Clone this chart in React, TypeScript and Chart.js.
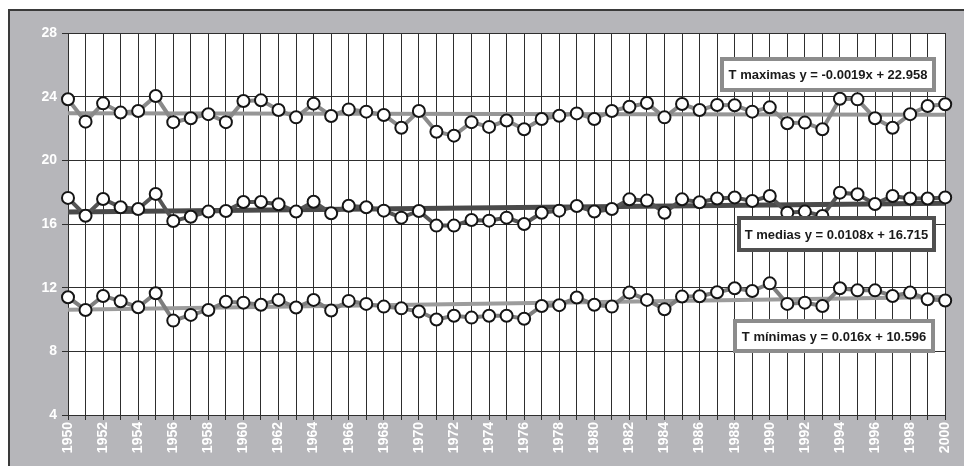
import React, { useEffect, useRef } from "react";
import { Chart, registerables } from "chart.js";
Chart.register(...registerables);

const years = [
  "1950","1951","1952","1953","1954","1955","1956","1957","1958","1959",
  "1960","1961","1962","1963","1964","1965","1966","1967","1968","1969",
  "1970","1971","1972","1973","1974","1975","1976","1977","1978","1979",
  "1980","1981","1982","1983","1984","1985","1986","1987","1988","1989",
  "1990","1991","1992","1993","1994","1995","1996","1997","1998","1999","2000",
];

const tMax = [
  23.84, 22.43, 23.58, 23.0, 23.1, 24.04, 22.4, 22.64, 22.9, 22.4,
  23.73, 23.77, 23.16, 22.7, 23.56, 22.79, 23.2, 23.06, 22.85, 22.05,
  23.1, 21.8, 21.55, 22.4, 22.1, 22.5, 21.95, 22.6, 22.8, 22.95,
  22.6, 23.1, 23.37, 23.6, 22.7, 23.54, 23.16, 23.48, 23.46, 23.06,
  23.33, 22.33, 22.37, 21.95, 23.87, 23.83, 22.64, 22.05, 22.9, 23.41, 23.52,
];

const tMed = [
  17.64, 16.52, 17.57, 17.05, 16.94, 17.89, 16.19, 16.46, 16.78, 16.82,
  17.38, 17.38, 17.24, 16.78, 17.4, 16.67, 17.15, 17.05, 16.84, 16.4,
  16.82, 15.9, 15.9, 16.25, 16.21, 16.4, 16.0, 16.71, 16.84, 17.13,
  16.78, 16.94, 17.55, 17.47, 16.71, 17.55, 17.37, 17.6, 17.67, 17.45,
  17.76, 16.71, 16.78, 16.5, 17.97, 17.87, 17.26, 17.76, 17.6, 17.6, 17.67,
];

const tMin = [
  11.4, 10.6, 11.48, 11.15, 10.77, 11.65, 9.93, 10.29, 10.6, 11.12,
  11.06, 10.93, 11.23, 10.75, 11.23, 10.56, 11.17, 10.98, 10.81, 10.7,
  10.5, 10.0, 10.24, 10.12, 10.24, 10.24, 10.05, 10.85, 10.9, 11.38,
  10.93, 10.81, 11.69, 11.23, 10.64, 11.44, 11.46, 11.71, 11.96, 11.79,
  12.27, 10.98, 11.06, 10.85, 11.96, 11.83, 11.83, 11.48, 11.69, 11.27, 11.19,
];

// trend line end values (1950, 2000)
const trendMaxEnds = [22.96, 22.86];
const trendMedEnds = [16.76, 17.3];
const trendMinEnds = [10.62, 11.41];

const labelMax = "T maximas y = -0.0019x + 22.958";
const labelMed = "T medias y = 0.0108x + 16.715";
const labelMin = "T mínimas y = 0.016x + 10.596";

const yTicks = [4, 8, 12, 16, 20, 24, 28];

function endsToSeries(ends: number[]) {
  return years.map((_, i) => (i === 0 ? ends[0] : i === years.length - 1 ? ends[1] : null));
}

const boxes = [
  { text: labelMax, x1: 720, y1: 57, x2: 936, y2: 92, border: "#8c8c8c" },
  { text: labelMed, x1: 737, y1: 216, x2: 936, y2: 252, border: "#505050" },
  { text: labelMin, x1: 733, y1: 319, x2: 935, y2: 353, border: "#8c8c8c" },
];

const bgPlugin = {
  id: "plotBg",
  beforeDraw(chart: any) {
    const { ctx, chartArea } = chart;
    ctx.save();
    ctx.fillStyle = "#ffffff";
    ctx.fillRect(chartArea.left, chartArea.top, chartArea.right - chartArea.left, chartArea.bottom - chartArea.top);
    ctx.restore();
  },
};

const boxPlugin = {
  id: "eqBoxes",
  afterDatasetsDraw(chart: any) {
    const ctx = chart.ctx;
    ctx.save();
    for (const b of boxes) {
      ctx.fillStyle = "#ffffff";
      ctx.fillRect(b.x1, b.y1, b.x2 - b.x1, b.y2 - b.y1);
      ctx.strokeStyle = b.border;
      ctx.lineWidth = 4;
      ctx.strokeRect(b.x1 + 2, b.y1 + 2, b.x2 - b.x1 - 4, b.y2 - b.y1 - 4);
      ctx.fillStyle = "#1a1a1a";
      ctx.font = "bold 13px 'Liberation Sans', Arial, sans-serif";
      ctx.textAlign = "center";
      ctx.textBaseline = "middle";
      ctx.fillText(b.text, (b.x1 + b.x2) / 2, (b.y1 + b.y2) / 2 + 1);
    }
    ctx.restore();
  },
};

export default function App() {
  const ref = useRef<HTMLCanvasElement | null>(null);
  useEffect(() => {
    document.body.style.overflow = "hidden";
    const pointStyle = {
      pointRadius: 6,
      pointHoverRadius: 6,
      pointBorderWidth: 2,
      pointBackgroundColor: "#ffffff",
      pointBorderColor: "#151515",
    };
    const chart = new Chart(ref.current as HTMLCanvasElement, {
      type: "line",
      data: {
        labels: years,
        datasets: [
          { label: "Tmax trend", data: endsToSeries(trendMaxEnds), spanGaps: true, borderColor: "#969696", borderWidth: 4, pointRadius: 0, order: 10 },
          { label: "Tmed trend", data: endsToSeries(trendMedEnds), spanGaps: true, borderColor: "#4a4a4a", borderWidth: 5, pointRadius: 0, order: 10 },
          { label: "Tmin trend", data: endsToSeries(trendMinEnds), spanGaps: true, borderColor: "#9c9c9c", borderWidth: 4, pointRadius: 0, order: 10 },
          { label: "T maximas", data: tMax, borderColor: "#8a8a8a", borderWidth: 4, order: 1, ...pointStyle },
          { label: "T medias", data: tMed, borderColor: "#555555", borderWidth: 4, order: 1, ...pointStyle },
          { label: "T mínimas", data: tMin, borderColor: "#7e7e7e", borderWidth: 4, order: 1, ...pointStyle },
        ],
      },
      options: {
        animation: false,
        responsive: false,
        devicePixelRatio: 1,
        layout: { padding: { top: 33, right: 11, left: 0, bottom: 0 } },
        plugins: { legend: { display: false }, tooltip: { enabled: false } },
        scales: {
          x: {
            type: "category",
            offset: false,
            grid: { color: "#2e2e2e", lineWidth: 1, tickLength: 5, drawTicks: true },
            border: { display: true, color: "#2e2e2e", width: 1 },
            ticks: {
              autoSkip: false,
              maxRotation: 90,
              minRotation: 90,
              padding: 2,
              color: "#ffffff",
              font: { family: "'Liberation Sans', Arial, sans-serif", size: 14, weight: "bold" },
              callback: (_v: any, i: number) => (i % 2 === 0 ? years[i] : ""),
            },
            afterFit: (s: any) => { s.height = 51; },
          },
          y: {
            min: 4,
            max: 28,
            afterBuildTicks: (s: any) => { s.ticks = yTicks.map((v) => ({ value: v })); },
            grid: { color: "#2e2e2e", lineWidth: 1, tickLength: 6, drawTicks: true },
            border: { display: true, color: "#2e2e2e", width: 1 },
            ticks: {
              padding: 5,
              color: "#ffffff",
              font: { family: "'Liberation Sans', Arial, sans-serif", size: 14, weight: "bold" },
            },
            afterFit: (s: any) => { s.width = 68; },
          },
        },
      },
      plugins: [bgPlugin, boxPlugin],
    } as any);
    return () => chart.destroy();
  }, []);

  return (
    <div>
      <div
        style={{
          position: "fixed",
          left: 8,
          top: 9,
          width: 970,
          height: 470,
          background: "#b6b6ba",
          borderLeft: "2px solid #3a3a3a",
          borderTop: "2px solid #3a3a3a",
          boxSizing: "border-box",
        }}
      />
      <canvas
        ref={ref}
        width={964}
        height={466}
        style={{ position: "fixed", left: 0, top: 0, width: 964, height: 466 }}
      />
    </div>
  );
}
